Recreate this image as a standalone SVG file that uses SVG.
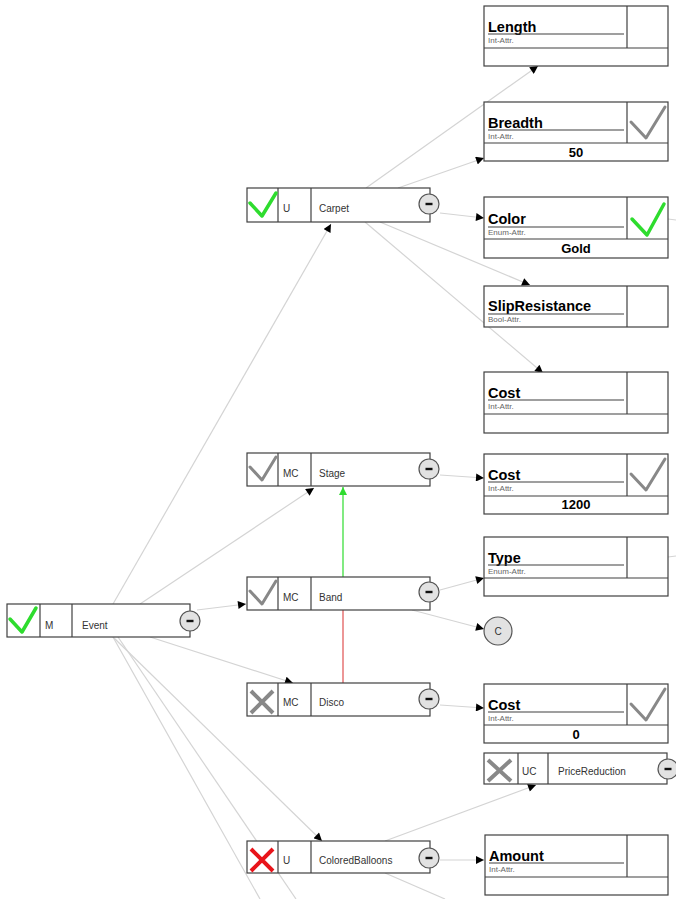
<svg xmlns="http://www.w3.org/2000/svg" width="676" height="899" viewBox="0 0 676 899">
<style>
.box{fill:#fff;stroke:#404040;stroke-width:1.2}
.div{stroke:#404040;stroke-width:1.2}
.con{stroke:#d4d4d4;stroke-width:1.2;fill:none}
.t{font-family:"Liberation Sans",Arial,sans-serif;font-size:10px;fill:#333}
.an{font-family:"Liberation Sans",Arial,sans-serif;font-size:14.5px;font-weight:bold;fill:#000}
.at{font-family:"Liberation Sans",Arial,sans-serif;font-size:8px;fill:#666}
.av{font-family:"Liberation Sans",Arial,sans-serif;font-size:13px;font-weight:bold;fill:#000;text-anchor:middle}
.ul{stroke:#404040;stroke-width:1.2}
.cg{stroke:#2edc2e;stroke-width:3.5;fill:none;stroke-linecap:round;stroke-linejoin:round}
.cy{stroke:#888;stroke-width:3;fill:none;stroke-linecap:round;stroke-linejoin:round}
.xg{stroke:#888;stroke-width:4;fill:none}
.xr{stroke:#e8141a;stroke-width:4;fill:none}
.mc{fill:#e2e2e2;stroke:#555;stroke-width:1.2}
.mm{fill:#111}
</style>
<defs>
<marker id="ah" viewBox="0 0 10 10" refX="10" refY="5" markerWidth="9" markerHeight="8" markerUnits="userSpaceOnUse" orient="auto"><path d="M0,0 L10,5 L0,10 z" fill="#000"/></marker>
<marker id="ahg" viewBox="0 0 10 10" refX="10" refY="5" markerWidth="9" markerHeight="8" markerUnits="userSpaceOnUse" orient="auto"><path d="M0,0 L10,5 L0,10 z" fill="#2edc2e"/></marker>
<g id="minus"><circle class="mc" cx="0" cy="0" r="10"/><rect class="mm" x="-3.5" y="-1.2" width="7" height="2.4"/></g>
</defs>

<g id="connectors">
<line class="con" x1="113" y1="604" x2="331" y2="224" marker-end="url(#ah)"/>
<line class="con" x1="140" y1="604" x2="314" y2="488" marker-end="url(#ah)"/>
<line class="con" x1="197" y1="610" x2="246" y2="604" marker-end="url(#ah)"/>
<line class="con" x1="150" y1="637" x2="293" y2="683" marker-end="url(#ah)"/>
<line class="con" x1="113" y1="637" x2="322" y2="841" marker-end="url(#ah)"/>
<line class="con" x1="113" y1="637" x2="260" y2="899"/>
<line class="con" x1="118" y1="637" x2="296" y2="899"/>
<line class="con" x1="366" y1="188" x2="538" y2="66" marker-end="url(#ah)"/>
<line class="con" x1="398" y1="188" x2="484" y2="158" marker-end="url(#ah)"/>
<line class="con" x1="440" y1="213" x2="484" y2="218" marker-end="url(#ah)"/>
<line class="con" x1="380" y1="222" x2="530" y2="285" marker-end="url(#ah)"/>
<line class="con" x1="365" y1="222" x2="543" y2="373" marker-end="url(#ah)"/>
<line class="con" x1="440" y1="475" x2="484" y2="478" marker-end="url(#ah)"/>
<line x1="343" y1="577" x2="343" y2="487" stroke="#2edc2e" stroke-width="1.2" marker-end="url(#ahg)"/>
<line x1="343" y1="610" x2="343" y2="683" stroke="#e05050" stroke-width="1.2"/>
<line class="con" x1="440" y1="590" x2="484" y2="578" marker-end="url(#ah)"/>
<line class="con" x1="412" y1="610" x2="484" y2="629" marker-end="url(#ah)"/>
<line class="con" x1="440" y1="705" x2="484" y2="708" marker-end="url(#ah)"/>
<line class="con" x1="385" y1="841" x2="536" y2="785" marker-end="url(#ah)"/>
<line class="con" x1="440" y1="860" x2="484" y2="860" marker-end="url(#ah)"/>
<line class="con" x1="385" y1="873" x2="445" y2="899"/>
<line class="con" x1="668" y1="219" x2="676" y2="220"/>
<line class="con" x1="668" y1="557" x2="676" y2="556"/>
</g>

<g id="Event">
<rect class="box" x="7" y="604" width="183" height="33"/>
<line class="div" x1="40" y1="604" x2="40" y2="637"/><line class="div" x1="72" y1="604" x2="72" y2="637"/>
<path class="cg" d="M10,619 L22,632 L36,608"/>
<text class="t" x="45" y="629">M</text><text class="t" x="82" y="629">Event</text>
<use href="#minus" x="190" y="621"/>
</g>

<g id="Carpet">
<rect class="box" x="247" y="188" width="183" height="34"/>
<line class="div" x1="278" y1="188" x2="278" y2="222"/><line class="div" x1="311" y1="188" x2="311" y2="222"/>
<path class="cg" d="M250,203 L262,216 L276,193"/>
<text class="t" x="283" y="212">U</text><text class="t" x="319" y="212">Carpet</text>
<use href="#minus" x="429" y="204"/>
</g>

<g id="Stage">
<rect class="box" x="247" y="453" width="183" height="33"/>
<line class="div" x1="278" y1="453" x2="278" y2="486"/><line class="div" x1="311" y1="453" x2="311" y2="486"/>
<path class="cy" d="M250,467 L262,480 L276,457"/>
<text class="t" x="283" y="477">MC</text><text class="t" x="319" y="477">Stage</text>
<use href="#minus" x="429" y="469"/>
</g>

<g id="Band">
<rect class="box" x="247" y="577" width="183" height="33"/>
<line class="div" x1="278" y1="577" x2="278" y2="610"/><line class="div" x1="311" y1="577" x2="311" y2="610"/>
<path class="cy" d="M250,591 L262,604 L276,581"/>
<text class="t" x="283" y="601">MC</text><text class="t" x="319" y="601">Band</text>
<use href="#minus" x="429" y="592"/>
</g>

<g id="Disco">
<rect class="box" x="247" y="683" width="183" height="33"/>
<line class="div" x1="278" y1="683" x2="278" y2="716"/><line class="div" x1="311" y1="683" x2="311" y2="716"/>
<path class="xg" d="M251,691 L273,713 M273,691 L251,713"/>
<text class="t" x="283" y="706">MC</text><text class="t" x="319" y="706">Disco</text>
<use href="#minus" x="429" y="699"/>
</g>

<g id="ColoredBalloons">
<rect class="box" x="247" y="841" width="183" height="32"/>
<line class="div" x1="278" y1="841" x2="278" y2="873"/><line class="div" x1="311" y1="841" x2="311" y2="873"/>
<path class="xr" d="M251,849 L273,871 M273,849 L251,871"/>
<text class="t" x="283" y="864">U</text><text class="t" x="319" y="864">ColoredBalloons</text>
<use href="#minus" x="429" y="858"/>
</g>

<g id="PriceReduction">
<rect class="box" x="484" y="753" width="183" height="31"/>
<line class="div" x1="518" y1="753" x2="518" y2="784"/><line class="div" x1="548" y1="753" x2="548" y2="784"/>
<path class="xg" d="M488,760 L511,781 M511,760 L488,781"/>
<text class="t" x="522" y="775">UC</text><text class="t" x="558" y="775">PriceReduction</text>
<use href="#minus" x="668" y="769"/>
</g>

<g id="C">
<circle class="mc" cx="498" cy="631" r="14"/>
<text class="t" x="498" y="635" text-anchor="middle">C</text>
</g>

<g id="Length">
<rect class="box" x="484" y="6" width="184" height="60"/>
<line class="div" x1="484" y1="48" x2="668" y2="48"/><line class="div" x1="627" y1="6" x2="627" y2="48"/>
<text class="an" x="488" y="32">Length</text><line class="ul" x1="488" y1="34" x2="624" y2="34"/>
<text class="at" x="488" y="43">Int-Attr.</text>
</g>

<g id="Breadth">
<rect class="box" x="484" y="102" width="184" height="59"/>
<line class="div" x1="484" y1="143" x2="668" y2="143"/><line class="div" x1="627" y1="102" x2="627" y2="143"/>
<text class="an" x="488" y="128">Breadth</text><line class="ul" x1="488" y1="130" x2="624" y2="130"/>
<text class="at" x="488" y="139">Int-Attr.</text>
<path class="cy" d="M631,122 L646,138 L665,107"/>
<text class="av" x="576" y="157">50</text>
</g>

<g id="Color">
<rect class="box" x="484" y="197" width="184" height="61"/>
<line class="div" x1="484" y1="239" x2="668" y2="239"/><line class="div" x1="627" y1="197" x2="627" y2="239"/>
<text class="an" x="488" y="224">Color</text><line class="ul" x1="488" y1="227" x2="624" y2="227"/>
<text class="at" x="488" y="235">Enum-Attr.</text>
<path class="cg" d="M632,219 L647,235 L664,204"/>
<text class="av" x="576" y="253">Gold</text>
</g>

<g id="SlipResistance">
<rect class="box" x="484" y="286" width="184" height="41"/>
<line class="div" x1="627" y1="286" x2="627" y2="327"/>
<text class="an" x="488" y="311">SlipResistance</text><line class="ul" x1="488" y1="314" x2="624" y2="314"/>
<text class="at" x="488" y="322">Bool-Attr.</text>
</g>

<g id="Cost1">
<rect class="box" x="484" y="372" width="184" height="61"/>
<line class="div" x1="484" y1="414" x2="668" y2="414"/><line class="div" x1="627" y1="372" x2="627" y2="414"/>
<text class="an" x="488" y="398">Cost</text><line class="ul" x1="488" y1="400" x2="624" y2="400"/>
<text class="at" x="488" y="409">Int-Attr.</text>
</g>

<g id="Cost2">
<rect class="box" x="484" y="454" width="184" height="60"/>
<line class="div" x1="484" y1="496" x2="668" y2="496"/><line class="div" x1="627" y1="454" x2="627" y2="496"/>
<text class="an" x="488" y="480">Cost</text><line class="ul" x1="488" y1="482" x2="624" y2="482"/>
<text class="at" x="488" y="491">Int-Attr.</text>
<path class="cy" d="M631,474 L646,490 L665,459"/>
<text class="av" x="576" y="509">1200</text>
</g>

<g id="Type">
<rect class="box" x="484" y="537" width="184" height="59"/>
<line class="div" x1="484" y1="578" x2="668" y2="578"/><line class="div" x1="627" y1="537" x2="627" y2="578"/>
<text class="an" x="488" y="563">Type</text><line class="ul" x1="488" y1="565" x2="624" y2="565"/>
<text class="at" x="488" y="574">Enum-Attr.</text>
</g>

<g id="Cost3">
<rect class="box" x="484" y="684" width="184" height="59"/>
<line class="div" x1="484" y1="725" x2="668" y2="725"/><line class="div" x1="627" y1="684" x2="627" y2="725"/>
<text class="an" x="488" y="710">Cost</text><line class="ul" x1="488" y1="712" x2="624" y2="712"/>
<text class="at" x="488" y="721">Int-Attr.</text>
<path class="cy" d="M631,704 L646,720 L665,689"/>
<text class="av" x="576" y="739">0</text>
</g>

<g id="Amount">
<rect class="box" x="485" y="835" width="183" height="60"/>
<line class="div" x1="485" y1="877" x2="668" y2="877"/><line class="div" x1="627" y1="835" x2="627" y2="877"/>
<text class="an" x="489" y="861">Amount</text><line class="ul" x1="489" y1="863" x2="624" y2="863"/>
<text class="at" x="489" y="872">Int-Attr.</text>
</g>
</svg>
